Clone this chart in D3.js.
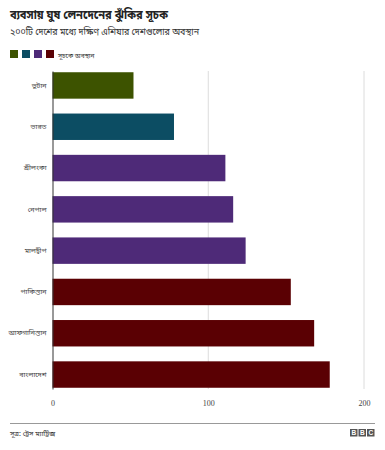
<!DOCTYPE html>
<html>
<head>
<meta charset="utf-8">
<script src="https://cdn.jsdelivr.net/npm/d3@7"></script>
<style>
  body { margin: 0; background: #fff; font-family: "Noto Sans", "Noto Sans Bengali", sans-serif; }
  .tick text { font-family: "Liberation Serif", serif; font-size: 8px; fill: #444; }
</style>
</head>
<body>
<div id="chart"></div>
<script>
// data
var countries = ["ভুটান", "ভারত", "শ্রীলংকা", "নেপাল", "মালদ্বীপ", "পাকিস্তান", "আফগানিস্তান", "বাংলাদেশ"];
var scores = [52, 78, 111, 116, 124, 153, 168, 178];
var groups = [0, 1, 2, 2, 2, 3, 3, 3];
var groupColors = ["#3d5300", "#0c4d63", "#4e2a78", "#5a0003"];
var xTicks = [0, 100, 200];

var W = 385, H = 450;
var margin = { top: 71, left: 52.5, right: 21, bottom: 61 };

var svg = d3.select("#chart").append("svg")
    .attr("width", W)
    .attr("height", H);

// title and subtitle (reference font is narrower, so squeeze to its width)
svg.append("text")
    .attr("x", 10).attr("y", 19)
    .attr("textLength", 158).attr("lengthAdjust", "spacingAndGlyphs")
    .style("font-size", "12.5px").style("font-weight", "bold").style("fill", "#222")
    .text("ব্যবসায় ঘুষ লেনদেনের ঝুঁকির সূচক");
svg.append("text")
    .attr("x", 10).attr("y", 34.5)
    .attr("textLength", 189).attr("lengthAdjust", "spacingAndGlyphs")
    .style("font-size", "9.5px").style("fill", "#333")
    .text("২০০টি দেশের মধ্যে দক্ষিণ এশিয়ার দেশগুলোর অবস্থান");

// legend - four swatches then one label
svg.selectAll("rect.legend")
    .data(groupColors)
    .enter()
    .append("rect")
    .attr("class", "legend")
    .attr("x", function(d, i) { return 10 + i * 12; })
    .attr("y", 50)
    .attr("width", 8).attr("height", 8)
    .attr("fill", function(d) { return d; });
svg.append("text")
    .attr("x", 58).attr("y", 57.5)
    .style("font-size", "6.5px").style("fill", "#333")
    .text("সূচকে অবস্থান");

var xScale = d3.scaleLinear()
    .domain([0, 200])
    .range([margin.left, 364]);

var yScale = d3.scaleBand()
    .domain(countries)
    .range([margin.top, 389])
    .paddingInner(0.36)
    .paddingOuter(0.03);

// gridlines
svg.selectAll("line.grid")
    .data(xTicks.slice(1))
    .enter()
    .append("line")
    .attr("class", "grid")
    .attr("x1", function(d) { return xScale(d); })
    .attr("x2", function(d) { return xScale(d); })
    .attr("y1", margin.top)
    .attr("y2", 389)
    .attr("stroke", "#dcdcdc");

// bars
svg.selectAll("rect.bar")
    .data(countries)
    .enter()
    .append("rect")
    .attr("class", "bar")
    .attr("x", xScale(0))
    .attr("y", function(d) { return yScale(d); })
    .attr("width", function(d, i) { return xScale(scores[i]) - xScale(0); })
    .attr("height", yScale.bandwidth())
    .attr("fill", function(d, i) { return groupColors[groups[i]]; });

// x axis, labels only
var xAxis = svg.append("g")
    .attr("transform", "translate(0," + 400 + ")")
    .call(d3.axisBottom(xScale).tickValues(xTicks).tickSize(0).tickPadding(0));
xAxis.select(".domain").remove();

// y axis
var yAxis = svg.append("g")
    .attr("transform", "translate(" + margin.left + ",0)")
    .call(d3.axisLeft(yScale).tickSize(0).tickPadding(6));
yAxis.select(".domain").attr("stroke", "#333");
yAxis.selectAll("text")
    .style("font-family", "'Noto Sans', 'Noto Sans Bengali', sans-serif")
    .style("font-size", "7px")
    .style("fill", "#444");

// footer
svg.append("line")
    .attr("x1", 10).attr("x2", 375)
    .attr("y1", 423.5).attr("y2", 423.5)
    .attr("stroke", "#999");
svg.append("text")
    .attr("x", 10).attr("y", 436)
    .style("font-size", "7px").style("fill", "#333")
    .text("সূত্র: ট্রেস ম্যাট্রিক্স");

// BBC blocks
var bbc = ["B", "B", "C"];
var logo = svg.append("g").attr("transform", "translate(350,429)");
logo.selectAll("rect")
    .data(bbc)
    .enter()
    .append("rect")
    .attr("x", function(d, i) { return i * 8.5; })
    .attr("width", 7.5).attr("height", 7.5)
    .attr("fill", "#555");
logo.selectAll("text")
    .data(bbc)
    .enter()
    .append("text")
    .attr("x", function(d, i) { return i * 8.5 + 3.75; })
    .attr("y", 6.3)
    .attr("text-anchor", "middle")
    .style("font-family", "'Liberation Sans', sans-serif")
    .style("font-size", "6.5px").style("font-weight", "bold").style("fill", "#fff")
    .text(function(d) { return d; });
</script>
</body>
</html>
